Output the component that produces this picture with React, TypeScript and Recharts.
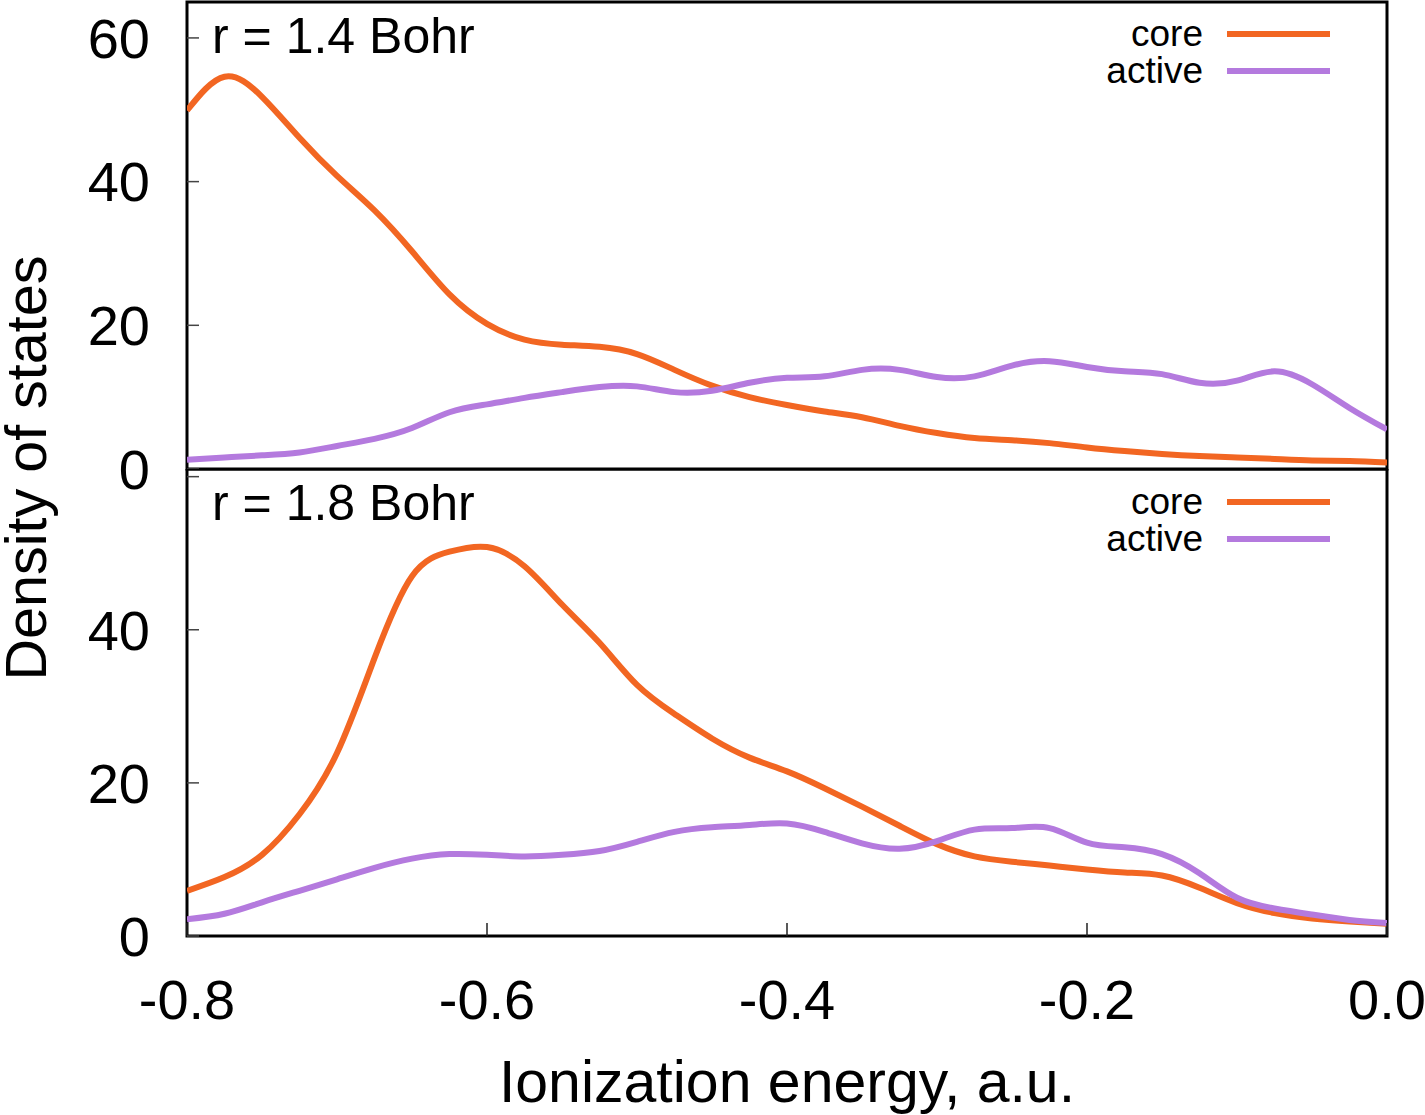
import React from 'react';
import { LineChart, Line, XAxis, YAxis, ReferenceArea, Legend } from 'recharts';

const energy = [
  -0.8, -0.775, -0.75, -0.725, -0.7, -0.675, -0.65, -0.625, -0.6, -0.575, -0.55,
  -0.525, -0.5, -0.475, -0.45, -0.425, -0.4, -0.375, -0.35, -0.325, -0.3, -0.275,
  -0.25, -0.225, -0.2, -0.175, -0.15, -0.125, -0.1, -0.075, -0.05, -0.025, 0,
];

// r = 1.4 Bohr
const core14 = [
  49.9, 54.6, 51.8, 46.1, 40.8, 36.0, 30.3, 24.3, 20.2, 18.0, 17.3,
  17.0, 16.0, 13.8, 11.6, 10.0, 8.9, 8.0, 7.2, 6.0, 5.0, 4.3,
  4.0, 3.6, 3.0, 2.5, 2.1, 1.8, 1.6, 1.4, 1.2, 1.1, 0.9,
];
const active14 = [
  1.3, 1.6, 1.9, 2.3, 3.2, 4.2, 5.7, 7.9, 9.0, 9.9, 10.7,
  11.4, 11.5, 10.7, 10.9, 12.0, 12.7, 12.9, 13.8, 13.8, 12.8, 12.9,
  14.4, 15.0, 14.2, 13.6, 13.2, 12.0, 12.3, 13.6, 11.8, 8.5, 5.5,
];

// r = 1.8 Bohr
const core18 = [
  5.9, 7.7, 10.6, 15.9, 23.9, 36.3, 47.0, 50.2, 50.8, 48.3, 43.3,
  38.3, 32.8, 29.0, 25.8, 23.3, 21.5, 19.3, 16.9, 14.4, 12.0, 10.4,
  9.7, 9.2, 8.7, 8.3, 7.9, 6.3, 4.3, 3.0, 2.3, 1.9, 1.6,
];
const active18 = [
  2.2, 2.9, 4.4, 5.9, 7.4, 8.9, 10.1, 10.7, 10.6, 10.4, 10.6,
  11.1, 12.3, 13.6, 14.2, 14.5, 14.7, 13.6, 12.1, 11.4, 12.4, 13.9,
  14.1, 14.1, 12.2, 11.6, 10.7, 8.2, 5.0, 3.6, 2.8, 2.1, 1.7,
];

const xTicks = [-0.8, -0.6, -0.4, -0.2, 0];
const yTicks = [0, 20, 40, 60];
const seriesNames = ['core', 'active'];
const panelLabels = ['r = 1.4 Bohr', 'r = 1.8 Bohr'];

const ORANGE = '#f26622';
const PURPLE = '#b47ade';
const FONT = '"Liberation Sans", Arial, Helvetica, sans-serif';

const top = energy.map((e, i) => ({ e, core: core14[i], active: active14[i] }));
const bottom = energy.map((e, i) => ({ e, core: core18[i], active: active18[i] }));

const renderLegend = (props: any) => {
  const payload = ([...(props.payload || [])] as any[]).sort(
    (a, b) => seriesNames.indexOf(a.value) - seriesNames.indexOf(b.value)
  );
  return (
    <div style={{ fontFamily: FONT, fontSize: 37, color: '#000' }}>
      {payload.map((p: any) => (
        <div
          key={p.value}
          style={{ display: 'flex', alignItems: 'center', justifyContent: 'flex-end', height: 37 }}
        >
          <span style={{ lineHeight: '37px', whiteSpace: 'nowrap' }}>{p.value}</span>
          <svg width={103} height={6} style={{ marginLeft: 24, display: 'block' }}>
            <line x1={0} x2={103} y1={3} y2={3} stroke={p.color} strokeWidth={6} />
          </svg>
        </div>
      ))}
    </div>
  );
};

const tickStyle = { fill: '#000', fontSize: 56, fontFamily: FONT };

export default function App() {
  return (
    <div style={{ position: 'absolute', left: 0, top: 0, width: 1425, height: 1115, background: '#fff' }}>
      <div style={{ position: 'absolute', left: 0, top: 0 }}>
        <LineChart width={1425} height={505} data={top} margin={{ top: 2, right: 38, bottom: 36, left: 0 }}>
          <XAxis dataKey="e" type="number" domain={[-0.8, 0]} ticks={xTicks} hide allowDataOverflow />
          <YAxis
            type="number"
            domain={[0, 65]}
            ticks={yTicks}
            interval={0}
            width={187}
            axisLine={false}
            tickSize={-12}
            tickMargin={49}
            tickLine={{ stroke: '#444', strokeWidth: 1.5 }}
            tick={tickStyle}
            allowDataOverflow
          />
          <Legend
            layout="vertical"
            align="center"
            verticalAlign="middle"
            content={renderLegend}
            wrapperStyle={{ left: 990, top: 15, width: 340 }}
          />
          <Line dataKey="core" name={seriesNames[0]} type="natural" stroke={ORANGE} strokeWidth={6} dot={false} isAnimationActive={false} />
          <Line dataKey="active" name={seriesNames[1]} type="natural" stroke={PURPLE} strokeWidth={6} dot={false} isAnimationActive={false} />
          <ReferenceArea x1={-0.8} x2={0} y1={0} y2={65} fill="none" stroke="#000" strokeWidth={3} ifOverflow="visible" />
        </LineChart>
      </div>
      <div style={{ position: 'absolute', left: 0, top: 469 }}>
        <LineChart width={1425} height={646} data={bottom} margin={{ top: 0, right: 38, bottom: 0, left: 0 }}>
          <XAxis
            dataKey="e"
            type="number"
            domain={[-0.8, 0]}
            ticks={xTicks}
            interval={0}
            height={179}
            axisLine={false}
            tickSize={-13}
            tickMargin={56}
            tickLine={{ stroke: '#222', strokeWidth: 1.5 }}
            tick={tickStyle}
            tickFormatter={(v: number) => v.toFixed(1)}
            allowDataOverflow
            label={{ value: 'Ionization energy, a.u.', position: 'insideBottom', offset: 13, fill: '#000', fontSize: 59, fontFamily: FONT }}
          />
          <YAxis
            type="number"
            domain={[0, 61]}
            ticks={yTicks}
            interval={0}
            width={187}
            axisLine={false}
            tickSize={-12}
            tickMargin={49}
            tickLine={{ stroke: '#444', strokeWidth: 1.5 }}
            tick={tickStyle}
            tickFormatter={(v: number) => (v === 60 ? '' : String(v))}
            allowDataOverflow
          />
          <Legend
            layout="vertical"
            align="center"
            verticalAlign="middle"
            content={renderLegend}
            wrapperStyle={{ left: 990, top: 14, width: 340 }}
          />
          <Line dataKey="core" name={seriesNames[0]} type="natural" stroke={ORANGE} strokeWidth={6} dot={false} isAnimationActive={false} />
          <Line dataKey="active" name={seriesNames[1]} type="natural" stroke={PURPLE} strokeWidth={6} dot={false} isAnimationActive={false} />
          <ReferenceArea x1={-0.8} x2={0} y1={0} y2={61} fill="none" stroke="#000" strokeWidth={3} ifOverflow="visible" />
        </LineChart>
      </div>
      <svg
        width={1425}
        height={1115}
        style={{ position: 'absolute', left: 0, top: 0, pointerEvents: 'none' }}
      >
        <text
          transform="translate(46,468) rotate(-90)"
          textAnchor="middle"
          fontFamily={FONT}
          fontSize={57.5}
          fill="#000"
        >
          Density of states
        </text>
        <text x={212} y={53} fontFamily={FONT} fontSize={50} fill="#000">
          {panelLabels[0]}
        </text>
        <text x={212} y={520} fontFamily={FONT} fontSize={50} fill="#000">
          {panelLabels[1]}
        </text>
      </svg>
    </div>
  );
}
